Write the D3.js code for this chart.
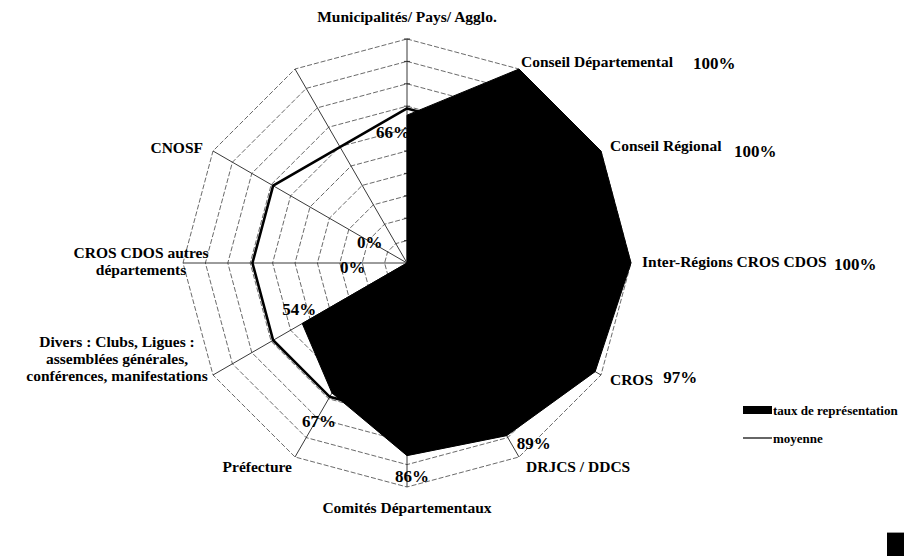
<!DOCTYPE html>
<html><head><meta charset="utf-8">
<script src="https://cdn.jsdelivr.net/npm/d3@7"></script>
<style>body{margin:0;background:#fff}svg{display:block}</style>
</head><body>
<svg id="chart" width="904" height="556"></svg>
<script>
// ---- data ----
const categories = ["Municipalités/ Pays/ Agglo.", "Conseil Départemental", "Conseil Régional",
  "Inter-Régions CROS CDOS", "CROS", "DRJCS / DDCS", "Comités Départementaux", "Préfecture",
  "Divers : Clubs, Ligues : assemblées générales, conférences, manifestations",
  "CROS CDOS autres départements", "CNOSF", ""];
const categoryLines = [["Municipalités/ Pays/ Agglo."], ["Conseil Départemental"], ["Conseil Régional"],
  ["Inter-Régions CROS CDOS"], ["CROS"], ["DRJCS / DDCS"], ["Comités Départementaux"], ["Préfecture"],
  ["Divers : Clubs, Ligues :", "assemblées générales,", "conférences, manifestations"],
  ["CROS CDOS autres", "départements"], ["CNOSF"], []];
const tauxValues = [66, 100, 100, 100, 97, 89, 86, 67, 54, 0, 0, null];
const moyenneValues = [69, 69, 69, 69, 69, 69, 69, 69, 69, 69, 69, null];
const gridLevels = [10, 20, 30, 40, 50, 60, 70, 80, 90, 100];
const seriesNames = ["taux de représentation", "moyenne"];

// ---- layout (styling only) ----
const cx = 407, cy = 263, R = 224;
const catLabelPos = [ // [dx, dy, anchor] relative to outer vertex
  [0, -17, "middle"], [2, -2, "start"], [9, 0, "start"], [11, 4, "start"], [9, 10, "start"],
  [7, 15, "start"], [0, 26, "middle"], [-3, 15, "end"], [-96, -28, "middle"], [-42, -5, "middle"],
  [-10, 2, "end"], [0, 0, "middle"]];
const valLabelPos = [ // [dx, dy, anchor] relative to data point
  [3, 23, "end"], [174, 0, "start"], [133, 6, "start"], [203, 7, "start"], [68, 11, "start"],
  [10, 13, "start"], [-12, 26, "start"], [-30, 34, "start"], [-20, -8, "start"], [-67, 10, "start"],
  [-50, -15, "start"], null];

const svg = d3.select("#chart");
const g = svg.append("g").attr("transform", `translate(${cx},${cy})`);
const r = d3.scaleLinear().domain([0, 100]).range([0, R]);
const angle = d3.scaleBand().domain(d3.range(categories.length)).range([0, 2 * Math.PI]);
const pt = (i, v) => [Math.sin(angle(i)) * r(v), -Math.cos(angle(i)) * r(v)];

// grid rings
const ring = d3.lineRadial().angle(d => angle(d.i)).radius(d => r(d.v)).curve(d3.curveLinearClosed);
gridLevels.forEach(lv => {
  g.append("path")
    .attr("d", ring(d3.range(categories.length).map(i => ({i, v: lv}))))
    .attr("fill", "none").attr("stroke", "#444").attr("stroke-width", 0.8)
    .attr("stroke-dasharray", "5,2");
});
// spokes
d3.range(categories.length).forEach(i => {
  const [x, y] = pt(i, 100);
  g.append("line").attr("x1", 0).attr("y1", 0).attr("x2", x).attr("y2", y)
    .attr("stroke", "#222").attr("stroke-width", 0.9);
});
// ticks on vertical axis
gridLevels.forEach(lv => {
  g.append("line").attr("x1", -3).attr("x2", 3).attr("y1", -r(lv)).attr("y2", -r(lv))
    .attr("stroke", "#222").attr("stroke-width", 0.9);
});

// filled series
const tauxData = tauxValues.map((v, i) => ({i, v: v == null ? 0 : v}));
g.append("path").attr("d", ring(tauxData)).attr("fill", "#000").attr("stroke", "#000").attr("stroke-width", 1);

// moyenne line (connect across blank)
const moyData = moyenneValues.map((v, i) => ({i, v})).filter(d => d.v != null);
g.append("path").attr("d", ring(moyData)).attr("fill", "none").attr("stroke", "#000")
  .attr("stroke-width", 2.6).attr("stroke-linejoin", "miter");

// category labels
const font = "'Liberation Serif', 'Times New Roman', serif";
categoryLines.forEach((lines, i) => {
  if (!lines.length) return;
  const [x, y] = pt(i, 100);
  const [dx, dy, anchor] = catLabelPos[i];
  const t = g.append("text").attr("x", x + dx).attr("y", y + dy).attr("text-anchor", anchor)
    .attr("font-family", font).attr("font-weight", "bold").attr("font-size", 15.5).attr("fill", "#000");
  lines.forEach((ln, k) => t.append("tspan").attr("x", x + dx).attr("dy", k === 0 ? 0 : 17).text(ln));
});
// value labels
tauxValues.forEach((v, i) => {
  if (v == null || !valLabelPos[i]) return;
  const [x, y] = pt(i, v);
  const [dx, dy, anchor] = valLabelPos[i];
  g.append("text").attr("x", x + dx).attr("y", y + dy).attr("text-anchor", anchor)
    .attr("font-family", font).attr("font-weight", "bold").attr("font-size", 17).attr("fill", "#000")
    .text(d3.format(".0f")(v) + "%");
});

// legend
const lg = svg.append("g").attr("transform", "translate(743,406)");
lg.append("rect").attr("x", 0).attr("y", 0).attr("width", 29).attr("height", 8).attr("fill", "#000");
lg.append("text").attr("x", 30).attr("y", 8.5).attr("font-family", font).attr("font-weight", "bold")
  .attr("font-size", 13).text(seriesNames[0]);
lg.append("line").attr("x1", 0).attr("x2", 29).attr("y1", 32).attr("y2", 32).attr("stroke", "#000").attr("stroke-width", 1.2);
lg.append("text").attr("x", 30).attr("y", 36.5).attr("font-family", font).attr("font-weight", "bold")
  .attr("font-size", 13).text(seriesNames[1]);

// corner block
svg.append("rect").attr("x", 887).attr("y", 532).attr("width", 17).attr("height", 24).attr("fill", "#000");
svg.append("line").attr("x1", 887).attr("x2", 904).attr("y1", 532.5).attr("y2", 532.5).attr("stroke", "#999");
</script>
</body></html>
